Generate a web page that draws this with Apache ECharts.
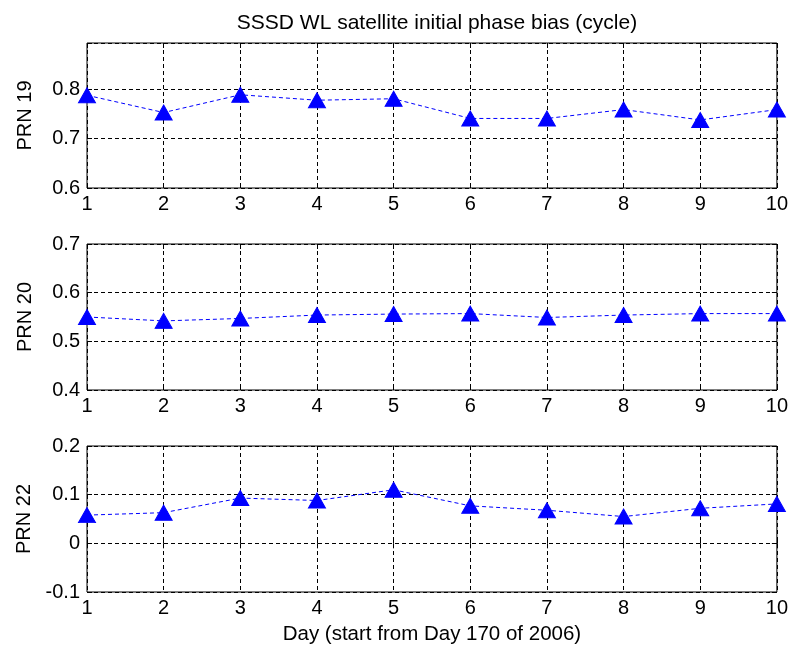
<!DOCTYPE html>
<html>
<head>
<meta charset="utf-8">
<script src="https://cdn.jsdelivr.net/npm/echarts@6/dist/echarts.min.js"></script>
<style>
html,body{margin:0;padding:0;background:#fff;}
#chart{width:791px;height:649px;}
</style>
</head>
<body>
<div id="chart"></div>
<script>
var days = [1, 2, 3, 4, 5, 6, 7, 8, 9, 10];
var prn19 = [0.788, 0.753, 0.789, 0.778, 0.781, 0.741, 0.741, 0.759, 0.738, 0.759];
var prn20 = [0.550, 0.542, 0.547, 0.554, 0.556, 0.557, 0.549, 0.554, 0.557, 0.557];
var prn22 = [0.058, 0.063, 0.093, 0.088, 0.110, 0.077, 0.068, 0.055, 0.072, 0.081];
var panelNames = ['PRN 19', 'PRN 20', 'PRN 22'];
var yMins = [0.6, 0.4, -0.1];
var yMaxs = [0.894, 0.7, 0.2];
var titleText = 'SSSD WL satellite initial phase bias (cycle)';
var xTitle = 'Day (start from Day 170 of 2006)';

var FONT = "'Liberation Sans', Arial, sans-serif";
var series = [prn19, prn20, prn22];
var grids = [
  {left: 87, top: 43, width: 695, height: 145},
  {left: 87, top: 244, width: 695, height: 146},
  {left: 87, top: 446, width: 695, height: 146}
];
function yFmt(v) {
  var r = Math.round(v * 10);
  if (Math.abs(v * 10 - r) > 1e-6) return '';
  if (r === 0) return '0';
  return (r / 10).toFixed(1);
}
var gridLine = {show: true, lineStyle: {color: '#000', type: [4, 3], width: 1}};
var xAxes = [], yAxes = [], ser = [];
for (var i = 0; i < 3; i++) {
  grids[i].show = true;
  grids[i].borderColor = '#000';
  grids[i].borderWidth = 1;
  xAxes.push({
    type: 'value', gridIndex: i, min: 1, max: 10, interval: 1, position: 'bottom',
    axisLine: {show: false},
    axisTick: {show: true, inside: true, length: 5, lineStyle: {color: '#000'}},
    axisLabel: {color: '#000', fontSize: 20, fontFamily: FONT, margin: 6},
    splitLine: gridLine,
    name: i === 2 ? xTitle : '',
    nameLocation: 'middle', nameGap: 32,
    nameTextStyle: {color: '#000', fontSize: 20.5, fontFamily: FONT}
  });
  xAxes.push({
    type: 'value', gridIndex: i, min: 1, max: 10, interval: 1, position: 'top',
    axisLine: {show: false},
    axisTick: {show: true, inside: true, length: 5, lineStyle: {color: '#000'}},
    axisLabel: {show: false}, splitLine: {show: false}
  });
  yAxes.push({
    type: 'value', gridIndex: i, min: yMins[i], max: yMaxs[i], interval: 0.1, position: 'left',
    axisLine: {show: false},
    axisTick: {show: true, inside: true, length: 5, lineStyle: {color: '#000'}},
    axisLabel: {color: '#000', fontSize: 20, fontFamily: FONT, margin: 7, formatter: yFmt},
    splitLine: gridLine,
    name: panelNames[i], nameLocation: 'middle', nameRotate: 90, nameGap: 52,
    nameTextStyle: {color: '#000', fontSize: 20, fontFamily: FONT}
  });
  yAxes.push({
    type: 'value', gridIndex: i, min: yMins[i], max: yMaxs[i], interval: 0.1, position: 'right',
    axisLine: {show: false},
    axisTick: {show: true, inside: true, length: 5, lineStyle: {color: '#000'}},
    axisLabel: {show: false}, splitLine: {show: false}
  });
  ser.push({
    type: 'line', name: panelNames[i], xAxisIndex: 2 * i, yAxisIndex: 2 * i,
    data: days.map(function (d, k) { return [d, series[i][k]]; }),
    symbol: 'triangle', symbolSize: [17, 15], clip: false,
    itemStyle: {color: '#0000ff', borderColor: '#0000ff'},
    lineStyle: {color: '#0000ff', width: 1, type: [4, 3]},
    animation: false
  });
}
var chart = echarts.init(document.getElementById('chart'));
chart.setOption({
  backgroundColor: '#fff',
  animation: false,
  title: {
    text: titleText, left: 432, top: 8, textAlign: 'center',
    textStyle: {color: '#000', fontSize: 21, fontWeight: 'normal', fontFamily: FONT}
  },
  grid: grids,
  xAxis: xAxes,
  yAxis: yAxes,
  series: ser
});
</script>
</body>
</html>
